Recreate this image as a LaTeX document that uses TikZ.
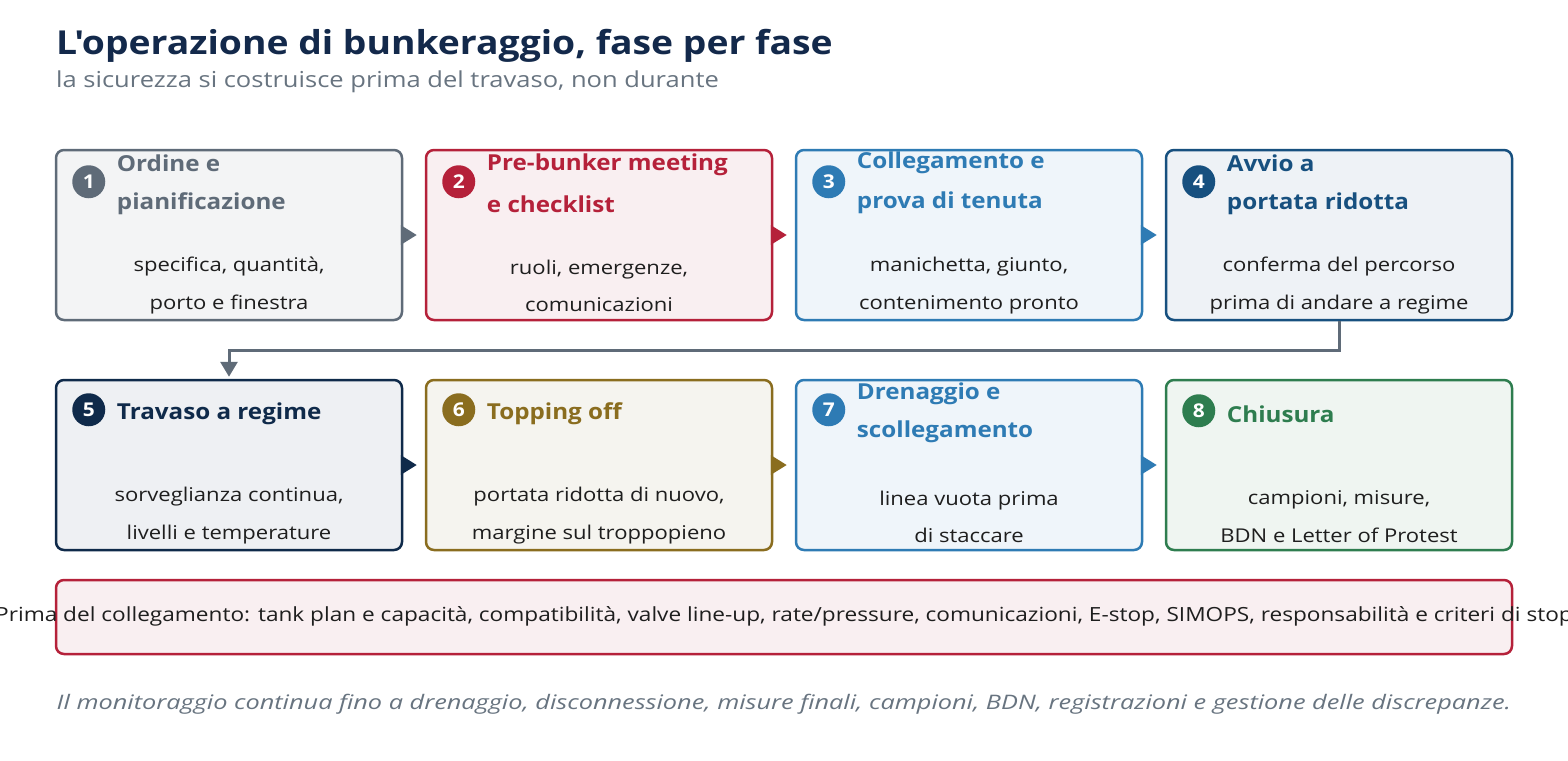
\documentclass[tikz,border=0pt]{standalone}
\usepackage{fontspec}
\setmainfont{Open Sans}[FakeStretch=1.16]
\newfontfamily\footfont{Open Sans}[FakeStretch=1.265]
\newfontfamily\headfont{Open Sans}[FakeStretch=1.10]
\newfontfamily\bigfont{Open Sans}[FakeStretch=1.13]
\usetikzlibrary{arrows.meta,calc}
\definecolor{gr}{HTML}{5F6B78}\definecolor{grf}{HTML}{F3F4F5}
\definecolor{rd}{HTML}{B5213A}\definecolor{rdf}{HTML}{F9EFF1}
\definecolor{bl}{HTML}{2E7BB4}\definecolor{blf}{HTML}{EFF5FA}
\definecolor{db}{HTML}{17507F}\definecolor{dbf}{HTML}{EEF2F6}
\definecolor{nv}{HTML}{0F2A4A}\definecolor{nvf}{HTML}{EEF0F3}
\definecolor{ol}{HTML}{8A6D1F}\definecolor{olf}{HTML}{F5F4EF}
\definecolor{gn}{HTML}{2E7D4F}\definecolor{gnf}{HTML}{EFF5F1}
\definecolor{ttlc}{HTML}{13294B}\definecolor{subc}{HTML}{687480}
\definecolor{txt}{HTML}{1E1E1E}
\tikzset{
  cardst/.style 2 args={draw=#1, fill=#2, rounded corners=8pt, line width=2.5pt,
    minimum width=346pt, minimum height=170pt, inner sep=0pt},
  badge/.style={circle, fill=#1, text=white, minimum size=33pt, inner sep=0pt,
    font=\headfont\fontsize{19pt}{19pt}\selectfont\bfseries},
  ttl/.style={text=#1, anchor=west, align=left, inner sep=0pt,
    font=\headfont\fontsize{22pt}{38pt}\selectfont\bfseries},
  body/.style={text=txt, align=center, inner sep=0pt,
    font=\fontsize{19pt}{37.5pt}\selectfont},
  flow/.style={draw=#1, line width=3pt, shorten >=8pt,
    -{Triangle[length=16pt,width=19pt]}},
}
\begin{document}
\begin{tikzpicture}[x=1pt,y=-1pt]
\useasboundingbox[fill=white] (0,0) rectangle (1568,760);
% title
\node[anchor=base west, inner sep=0pt, text=ttlc, font=\bigfont\fontsize{33pt}{33pt}\selectfont\bfseries] (title) at (56,55) {L'operazione di bunkeraggio, fase per fase};
\node[anchor=base west, inner sep=0pt, text=subc, font=\fontsize{22pt}{22pt}\selectfont] (sub) at (56,88) {la sicurezza si costruisce prima del travaso, non durante};
% cards
\node[cardst={gr}{grf}] (c1) at (229,235) {};
\node[cardst={rd}{rdf}] (c2) at (599,235) {};
\node[cardst={bl}{blf}] (c3) at (969,235) {};
\node[cardst={db}{dbf}] (c4) at (1339,235) {};
\node[cardst={nv}{nvf}] (c5) at (229,465) {};
\node[cardst={ol}{olf}] (c6) at (599,465) {};
\node[cardst={bl}{blf}] (c7) at (969,465) {};
\node[cardst={gn}{gnf}] (c8) at (1339,465) {};
% badges
\node[badge=gr] (b1) at ($(c1.north west)+(34,33)$) {1};
\node[badge=rd] (b2) at ($(c2.north west)+(34,33)$) {2};
\node[badge=bl] (b3) at ($(c3.north west)+(34,33)$) {3};
\node[badge=db] (b4) at ($(c4.north west)+(34,33)$) {4};
\node[badge=nv] (b5) at ($(c5.north west)+(34,31)$) {5};
\node[badge=ol] (b6) at ($(c6.north west)+(34,31)$) {6};
\node[badge=bl] (b7) at ($(c7.north west)+(34,31)$) {7};
\node[badge=gn] (b8) at ($(c8.north west)+(34,32)$) {8};
% titles
\node[ttl=gr] (t1) at ($(c1.north west)+(62,36)$) {Ordine e\\pianificazione};
\node[ttl=rd, font=\headfont\fontsize{22pt}{42pt}\selectfont\bfseries] (t2) at ($(c2.north west)+(62,34)$) {Pre-bunker meeting\\e checklist};
\node[ttl=bl, font=\headfont\fontsize{22pt}{40pt}\selectfont\bfseries] (t3) at ($(c3.north west)+(62,34)$) {Collegamento e\\prova di tenuta};
\node[ttl=db] (t4) at ($(c4.north west)+(62,36)$) {Avvio a\\portata ridotta};
\node[ttl=nv] (t5) at ($(c5.north west)+(62,35)$) {Travaso a regime};
\node[ttl=ol] (t6) at ($(c6.north west)+(62,35)$) {Topping off};
\node[ttl=bl] (t7) at ($(c7.north west)+(62,34.5)$) {Drenaggio e\\scollegamento};
\node[ttl=gn] (t8) at ($(c8.north west)+(62,35)$) {Chiusura};
% bodies
\node[body] (d1) at ($(c1.north)+(0,137)$) {specifica, quantità,\\porto e finestra};
\node[body] (d2) at ($(c2.north)+(0,137)$) {ruoli, emergenze,\\comunicazioni};
\node[body] (d3) at ($(c3.north)+(0,137)$) {manichetta, giunto,\\contenimento pronto};
\node[body] (d4) at ($(c4.north)+(0,137)$) {conferma del percorso\\prima di andare a regime};
\node[body] (d5) at ($(c5.north)+(0,137)$) {sorveglianza continua,\\livelli e temperature};
\node[body] (d6) at ($(c6.north)+(0,137)$) {portata ridotta di nuovo,\\margine sul troppopieno};
\node[body] (d7) at ($(c7.north)+(0,138)$) {linea vuota prima\\di staccare};
\node[body] (d8) at ($(c8.north)+(0,138)$) {campioni, misure,\\BDN e Letter of Protest};
% flow arrows
\draw[flow=gr] (c1.east) -- (c2.west);
\draw[flow=rd] (c2.east) -- (c3.west);
\draw[flow=bl] (c3.east) -- (c4.west);
\draw[flow=nv] (c5.east) -- (c6.west);
\draw[flow=ol] (c6.east) -- (c7.west);
\draw[flow=bl] (c7.east) -- (c8.west);
\draw[draw=gr, line width=3pt, shorten >=2pt, -{Triangle[length=15pt,width=17pt]}]
  (c4.south) -- ++(0,29) -| (c5.north);
% bottom box
\node[draw=rd, fill=rdf, rounded corners=8pt, line width=2.5pt, minimum width=1456pt,
  minimum height=74pt, inner sep=0pt] (note) at (784,617) {};
\node[text=txt, inner sep=0pt, font=\fontsize{19.5pt}{20pt}\selectfont] (notet) at (784,616) {Prima del collegamento: tank plan e capacità, compatibilità, valve line-up, rate/pressure, comunicazioni, E-stop, SIMOPS, responsabilità e criteri di stop};
% footer
\node[text=subc, inner sep=0pt, font=\footfont\fontsize{20pt}{20pt}\selectfont\itshape] (foot) at (784,704) {Il monitoraggio continua fino a drenaggio, disconnessione, misure finali, campioni, BDN, registrazioni e gestione delle discrepanze.};
\end{tikzpicture}
\end{document}
